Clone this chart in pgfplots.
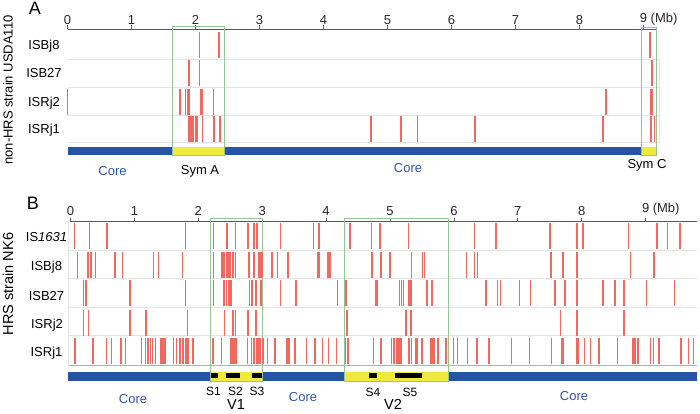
\documentclass[border=0pt]{standalone}
\usepackage{fontspec}
\setmainfont{Liberation Sans}
\usepackage{pgfplots}
\pgfplotsset{compat=1.18}
\definecolor{isred}{RGB}{240,104,94}
\definecolor{coreblue}{RGB}{38,84,164}
\definecolor{coretext}{RGB}{45,85,175}
\definecolor{symyellow}{RGB}{240,234,60}
\definecolor{boxgreen}{RGB}{150,196,150}
\definecolor{sepgray}{RGB}{228,228,228}
\definecolor{axgray}{RGB}{90,90,90}
\newcommand\fs{\fontsize{13}{15}\selectfont}
\newcommand\fss{\fontsize{12}{14}\selectfont}
\newcommand\fsv{\fontsize{14.5}{16}\selectfont}
\newcommand\fsl{\fontsize{18}{20}\selectfont}
\pgfplotsset{
 isrow/.style={color=isred, only marks, mark=|, mark size=13pt, mark options={color=isred, draw=isred, fill=isred, line width=1.5pt}},
 sep/.style={sepgray, line width=0.8pt},
 gbox/.style={boxgreen, line width=0.9pt},
 strip/.style={fill=#1, draw=none},
 panel/.style={enlargelimits=false, clip=false, axis x line=top, axis y line=none,
   x axis line style={-, draw=axgray, line width=1.1pt},
   xtick={0,1,2,3,4,5,6,7,8,9}, xticklabels={0,1,2,3,4,5,6,7,8,{9\rlap{ (Mb)}}},
   tick align=outside, major tick length=4pt,
   xtick style={draw=axgray, line width=0.8pt},
   xticklabel style={font=\fs, text=black!85}}
}
\begin{document}
\begin{tikzpicture}
\path[use as bounding box] (0pt,0pt) rectangle (700pt,-413pt);
% ---------------- Panel A: non-HRS strain USDA110
\begin{axis}[panel, x=64pt, y=1pt, anchor=south west, at={(67.5pt,-160pt)},
  xmin=0, xmax=9.195, ymin=-160, ymax=-29.3, xticklabel style={yshift=-3pt}]
% row separators
\addplot[sep] coordinates {(0,-59) (9.25,-59)};
\addplot[sep] coordinates {(0,-87) (9.25,-87)};
\addplot[sep] coordinates {(0,-115) (9.25,-115)};
\addplot[sep] coordinates {(0,-142) (9.25,-142)};
\addplot[sep] coordinates {(9.25,-59) (9.25,-142)};
% genome strip
\addplot[strip=coreblue] coordinates {(0,-147) (1.633,-147) (1.633,-155) (0,-155)} -- cycle;
\addplot[strip=coreblue] coordinates {(2.445,-147) (8.97,-147) (8.97,-155) (2.445,-155)} -- cycle;
\addplot[strip=symyellow] coordinates {(1.633,-147) (2.445,-147) (2.445,-155) (1.633,-155)} -- cycle;
\addplot[strip=symyellow] coordinates {(8.97,-147) (9.195,-147) (9.195,-155) (8.97,-155)} -- cycle;
% IS elements
\addplot[isrow] coordinates {(2.06,-45.3) (2.37,-45.3) (9.10,-45.3)};
\addplot[isrow] coordinates {(1.90,-73) (2.06,-73) (9.13,-73)};
\addplot[isrow] coordinates {(0.0,-101.8) (1.76,-101.8) (1.84,-101.8) (1.88,-101.8) (1.90,-101.8)
  (2.08,-101.8) (2.10,-101.8) (2.28,-101.8) (8.41,-101.8) (9.12,-101.8) (9.14,-101.8)};
\addplot[isrow] coordinates {(1.90,-128.7) (1.93,-128.7) (1.96,-128.7) (2.01,-128.7) (2.03,-128.7)
  (2.11,-128.7) (2.29,-128.7) (2.38,-128.7) (4.74,-128.7) (5.21,-128.7) (5.47,-128.7)
  (6.37,-128.7) (8.37,-128.7) (9.12,-128.7) (9.17,-128.7)};
% symbiosis island boxes
\addplot[gbox] coordinates {(1.633,-26) (2.445,-26) (2.445,-155) (1.633,-155)} -- cycle;
\addplot[gbox] coordinates {(8.97,-27.7) (9.195,-27.7) (9.195,-155) (8.97,-155)} -- cycle;
\end{axis}
% ---------------- Panel B: HRS strain NK6
\begin{axis}[panel, x=63.9pt, y=1pt, anchor=south west, at={(70.5pt,-385pt)},
  xmin=0, xmax=9.8, ymin=-385, ymax=-221.7, xticklabel style={yshift=-1pt}]
\addplot[sep] coordinates {(-0.03,-250) (9.8,-250)};
\addplot[sep] coordinates {(-0.03,-278.5) (9.8,-278.5)};
\addplot[sep] coordinates {(-0.03,-307) (9.8,-307)};
\addplot[sep] coordinates {(-0.03,-335) (9.8,-335)};
\addplot[sep] coordinates {(-0.03,-222) (-0.03,-365)};
\addplot[black!30, line width=0.9pt] coordinates {(-0.03,-365) (9.8,-365)};
% genome strip
\addplot[strip=coreblue] coordinates {(-0.045,-371.7) (2.194,-371.7) (2.194,-381) (-0.045,-381)} -- cycle;
\addplot[strip=coreblue] coordinates {(3.002,-371.7) (4.28,-371.7) (4.28,-381) (3.002,-381)} -- cycle;
\addplot[strip=coreblue] coordinates {(5.915,-371.7) (9.8,-371.7) (9.8,-381) (5.915,-381)} -- cycle;
\addplot[strip=symyellow] coordinates {(2.194,-371.7) (3.002,-371.7) (3.002,-381) (2.194,-381)} -- cycle;
\addplot[strip=symyellow] coordinates {(4.28,-371.7) (5.915,-371.7) (5.915,-381) (4.28,-381)} -- cycle;
% S1-S5 segments
\addplot[strip=black] coordinates {(2.194,-373.3) (2.313,-373.3) (2.313,-378) (2.194,-378)} -- cycle;
\addplot[strip=black] coordinates {(2.433,-373.3) (2.652,-373.3) (2.652,-378) (2.433,-378)} -- cycle;
\addplot[strip=black] coordinates {(2.836,-373.3) (3.002,-373.3) (3.002,-378) (2.836,-378)} -- cycle;
\addplot[strip=black] coordinates {(4.671,-373.3) (4.801,-373.3) (4.801,-378) (4.671,-378)} -- cycle;
\addplot[strip=black] coordinates {(5.078,-373.3) (5.496,-373.3) (5.496,-378) (5.078,-378)} -- cycle;
% IS1631
\addplot[isrow] coordinates {(0.06,-236) (0.30,-236) (0.57,-236) (1.80,-236) (2.24,-236) (2.44,-236)
  (2.46,-236) (2.58,-236) (2.78,-236) (2.87,-236) (2.92,-236) (3.29,-236) (3.80,-236) (3.89,-236)
  (4.37,-236) (4.71,-236) (4.84,-236) (5.29,-236) (6.32,-236) (6.66,-236) (7.50,-236) (7.93,-236)
  (8.02,-236) (8.73,-236) (9.18,-236) (9.34,-236) (9.54,-236)};
% ISBj8
\addplot[isrow] coordinates {(0.11,-264.5) (0.27,-264.5) (0.32,-264.5) (0.39,-264.5) (0.70,-264.5)
  (0.81,-264.5) (1.30,-264.5) (1.38,-264.5) (1.75,-264.5) (2.24,-264.5) (2.37,-264.5) (2.40,-264.5)
  (2.44,-264.5) (2.46,-264.5) (2.48,-264.5) (2.50,-264.5) (2.54,-264.5) (2.58,-264.5) (2.79,-264.5)
  (2.87,-264.5) (2.95,-264.5) (2.98,-264.5) (3.00,-264.5) (3.15,-264.5) (3.24,-264.5) (3.40,-264.5)
  (3.87,-264.5) (3.90,-264.5) (4.03,-264.5) (4.06,-264.5) (4.72,-264.5) (4.86,-264.5) (5.00,-264.5)
  (5.34,-264.5) (5.51,-264.5) (5.54,-264.5) (6.20,-264.5) (6.32,-264.5) (6.37,-264.5) (7.52,-264.5)
  (7.71,-264.5) (7.93,-264.5) (8.76,-264.5) (9.13,-264.5)};
% ISB27
\addplot[isrow] coordinates {(0.20,-293) (0.24,-293) (0.93,-293) (1.80,-293) (2.24,-293) (2.40,-293)
  (2.44,-293) (2.48,-293) (2.51,-293) (2.80,-293) (2.83,-293) (2.85,-293) (2.90,-293) (2.97,-293)
  (2.99,-293) (3.29,-293) (3.53,-293) (4.18,-293) (4.30,-293) (4.32,-293) (4.77,-293) (4.80,-293)
  (5.15,-293) (5.18,-293) (5.21,-293) (5.29,-293) (5.31,-293) (5.34,-293) (5.58,-293) (5.66,-293)
  (6.50,-293) (6.68,-293) (6.73,-293) (7.03,-293) (7.20,-293) (7.58,-293) (7.74,-293) (7.93,-293)
  (8.33,-293) (8.52,-293) (8.66,-293) (9.01,-293) (9.45,-293)};
% ISRj2
\addplot[isrow] coordinates {(0.20,-322.5) (0.28,-322.5) (0.93,-322.5) (1.18,-322.5) (1.83,-322.5)
  (2.41,-322.5) (2.54,-322.5) (2.58,-322.5) (2.78,-322.5) (2.90,-322.5) (4.33,-322.5) (5.25,-322.5)
  (5.33,-322.5) (7.67,-322.5) (7.93,-322.5) (8.66,-322.5)};
% ISRj1
\addplot[isrow] coordinates {(0.06,-351.3) (0.08,-351.3) (0.35,-351.3) (0.56,-351.3) (0.64,-351.3)
  (0.79,-351.3) (0.86,-351.3) (1.11,-351.3) (1.17,-351.3) (1.21,-351.3) (1.25,-351.3) (1.28,-351.3)
  (1.33,-351.3) (1.41,-351.3) (1.43,-351.3) (1.46,-351.3) (1.48,-351.3) (1.61,-351.3) (1.66,-351.3)
  (1.71,-351.3) (1.75,-351.3) (1.77,-351.3) (1.81,-351.3) (1.84,-351.3) (1.92,-351.3)
  (2.23,-351.3) (2.36,-351.3) (2.51,-351.3) (2.53,-351.3) (2.55,-351.3) (2.57,-351.3) (2.59,-351.3)
  (2.77,-351.3) (2.83,-351.3) (2.86,-351.3) (2.88,-351.3) (2.91,-351.3) (2.93,-351.3) (2.95,-351.3)
  (2.97,-351.3) (3.01,-351.3) (3.08,-351.3) (3.20,-351.3) (3.39,-351.3) (3.42,-351.3) (3.51,-351.3)
  (3.69,-351.3) (3.83,-351.3) (3.94,-351.3) (4.04,-351.3) (4.16,-351.3) (4.30,-351.3) (4.34,-351.3)
  (4.74,-351.3) (4.86,-351.3) (5.02,-351.3) (5.06,-351.3) (5.10,-351.3) (5.12,-351.3) (5.14,-351.3)
  (5.16,-351.3) (5.18,-351.3) (5.30,-351.3) (5.34,-351.3) (5.40,-351.3) (5.42,-351.3) (5.50,-351.3)
  (5.63,-351.3) (5.65,-351.3) (5.67,-351.3) (5.70,-351.3) (5.75,-351.3) (5.87,-351.3) (5.88,-351.3)
  (5.99,-351.3) (6.06,-351.3) (6.21,-351.3) (6.36,-351.3) (6.55,-351.3) (6.90,-351.3) (7.18,-351.3)
  (7.53,-351.3) (7.69,-351.3) (7.71,-351.3) (7.93,-351.3) (7.95,-351.3) (8.04,-351.3) (8.14,-351.3)
  (8.27,-351.3) (8.28,-351.3) (8.56,-351.3) (8.80,-351.3) (8.81,-351.3) (8.83,-351.3) (8.88,-351.3)
  (9.08,-351.3) (9.12,-351.3) (9.21,-351.3) (9.55,-351.3) (9.67,-351.3) (9.75,-351.3)};
% variable region boxes
\addplot[gbox] coordinates {(2.194,-218.3) (3.002,-218.3) (3.002,-381) (2.194,-381)} -- cycle;
\addplot[gbox] coordinates {(4.28,-218.3) (5.915,-218.3) (5.915,-381) (4.28,-381)} -- cycle;
\end{axis}
% ---------------- text
\node[rotate=90, font=\fs] at (8pt,-90pt) {non-HRS strain USDA110};
\node[rotate=90, font=\fsv] at (8pt,-284pt) {HRS strain NK6};
\node[font=\fsl] at (35pt,-8pt) {A};
\node[font=\fsl] at (33pt,-203pt) {B};
% row labels A
\node[font=\fs] at (44pt,-46pt) {ISBj8};
\node[font=\fs] at (44pt,-73.5pt) {ISB27};
\node[font=\fs] at (44pt,-103pt) {ISRj2};
\node[font=\fs] at (44pt,-130pt) {ISRj1};
% row labels B
\node[font=\fs] at (46.5pt,-237pt) {IS\textit{1631}};
\node[font=\fs] at (46.5pt,-267pt) {ISBj8};
\node[font=\fs] at (46.5pt,-296pt) {ISB27};
\node[font=\fs] at (47pt,-325pt) {ISRj2};
\node[font=\fs] at (46.5pt,-353pt) {ISRj1};
% region labels A
\node[font=\fs, text=coretext] at (112.5pt,-171pt) {Core};
\node[font=\fs] at (200pt,-171pt) {Sym A};
\node[font=\fs, text=coretext] at (408pt,-168pt) {Core};
\node[font=\fs] at (647pt,-165pt) {Sym C};
% region labels B
\node[font=\fs, text=coretext] at (133pt,-399pt) {Core};
\node[font=\fss] at (213.5pt,-391pt) {S1};
\node[font=\fss] at (235.5pt,-391pt) {S2};
\node[font=\fss] at (257pt,-391pt) {S3};
\node[font=\fsv] at (236pt,-404.5pt) {V1};
\node[font=\fs, text=coretext] at (303pt,-397pt) {Core};
\node[font=\fss] at (373pt,-392pt) {S4};
\node[font=\fss] at (410pt,-392pt) {S5};
\node[font=\fsv] at (393pt,-404pt) {V2};
\node[font=\fs, text=coretext] at (574pt,-396pt) {Core};
\end{tikzpicture}
\end{document}
